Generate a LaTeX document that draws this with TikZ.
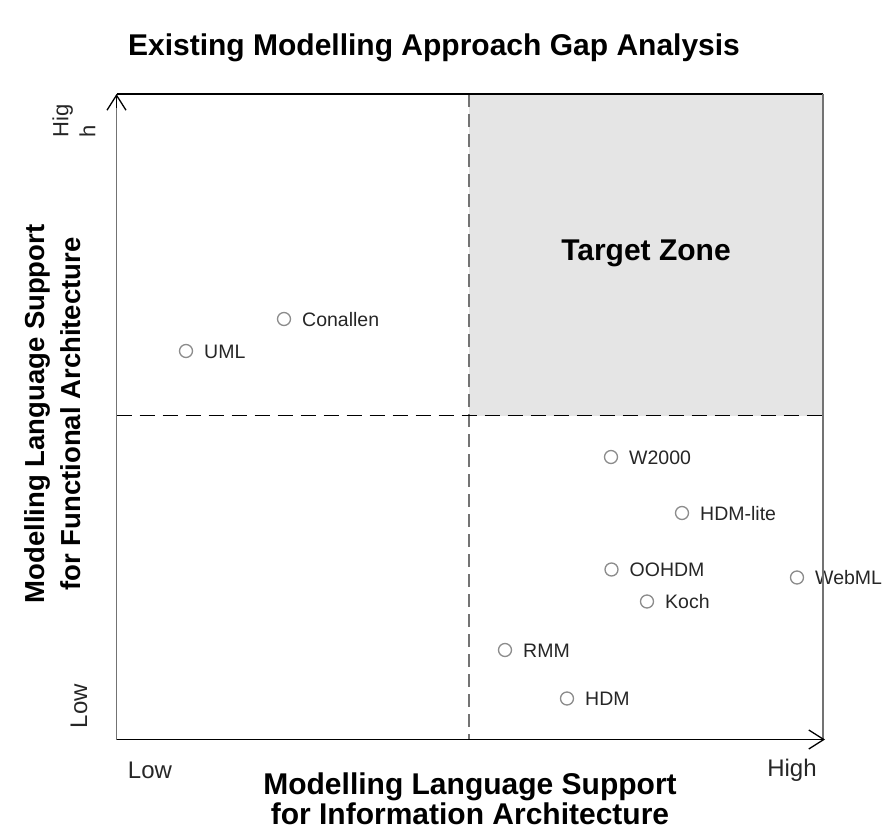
\documentclass[tikz,border=0pt]{standalone}
\usepackage{fontspec}
\setmainfont{Liberation Sans}
\usetikzlibrary{arrows.meta}
\begin{document}
\begin{tikzpicture}[x=1pt,y=-1pt,
  dot/.style={circle,draw=black!45,line width=1.3pt,minimum size=13pt,inner sep=0pt},
  ptlabel/.style={font=\fontsize{19.5}{23}\selectfont,anchor=base west,inner sep=0pt,text=black!85},
  endlabel/.style={font=\fontsize{24}{27}\selectfont,inner sep=0pt,text=black!85},
  headlabel/.style={font=\fontsize{30}{31}\selectfont\bfseries,inner sep=0pt,align=center},
  barb/.tip={Straight Barb[length=15pt,width=19pt,line width=1.3pt]}]
\useasboundingbox (0,0) rectangle (884,832);
\coordinate (orig) at (116.5,739.5);
\coordinate (ytop) at (116.5,94);
\coordinate (xend) at (825,739.5);
\coordinate (tr) at (823,94);
\coordinate (br) at (823,739.5);
\coordinate (mtop) at (469,94);
\coordinate (mbot) at (469,739.5);
\coordinate (mleft) at (116.5,415.5);
\coordinate (mright) at (823,415.5);

% target zone
\fill[black!10] (mtop) rectangle (mright);
\node[headlabel] (target) at (646,253) {Target Zone};

% approaches
\foreach \px/\py/\nm/\txt in {186/351/uml/UML, 284/319/conallen/Conallen,
  611/457/wtwo/W2000, 682/513/hdmlite/HDM-lite, 611.5/569.5/oohdm/OOHDM,
  797/577.5/webml/WebML, 647/601.5/koch/Koch, 505/650/rmm/RMM, 567/698.5/hdm/HDM}{
\node[dot] (p\nm) at (\px,\py) {};
\node[ptlabel] (l\nm) at (\px+18,\py+7) {\txt};
}

% quadrant lines
\draw[black!55,line width=1.5pt,dash pattern=on 13pt off 7pt] (mtop) -- (mbot);
\draw[line width=1.3pt,dash pattern=on 15pt off 8pt] (mleft) -- (mright);

% frame and axes
\draw[line width=1.3pt] (ytop) -- (tr);
\draw[black!55,line width=2pt] (tr) -- (br);
\draw[black!55,line width=1.8pt] (orig) -- (ytop);
\draw[line width=1.3pt,-barb] (orig) -- (xend);
\draw[line width=1.3pt,barb-] (ytop) -- ++(0,14);

% axis labels
\node[endlabel,rotate=90] (ylow) at (79,706) {Low};
\node[endlabel,rotate=90,align=left,font=\fontsize{22}{27}\selectfont] (yhigh) at (74,121) {Hig\\h};
\node[endlabel] (xlow) at (150,770) {Low};
\node[endlabel] (xhigh) at (792,770) {High};
\node[headlabel,font=\fontsize{30}{30}\selectfont\bfseries] (xtitle) at (470,799) {Modelling Language Support\\for Information Architecture};
\node[headlabel,rotate=90,font=\fontsize{27.5}{36}\selectfont\bfseries] (ytitle) at (53,414) {Modelling Language Support\\for Functional Architecture};
\node[headlabel] (title) at (434,48) {Existing Modelling Approach Gap Analysis};
\end{tikzpicture}
\end{document}
